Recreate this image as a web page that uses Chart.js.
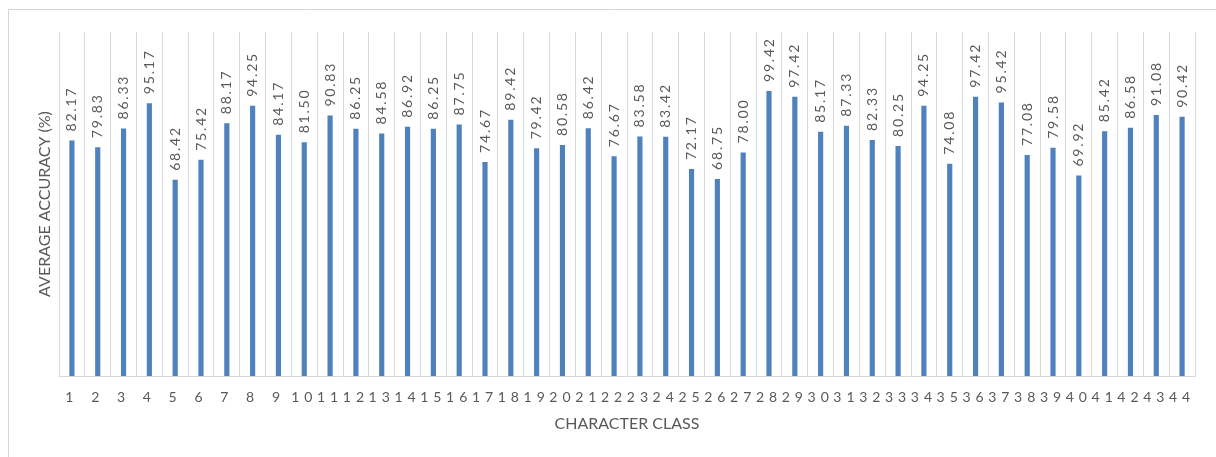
<!DOCTYPE html>
<html>
<head>
<meta charset="utf-8">
<title>Average accuracy per character class</title>
<script src="https://cdn.jsdelivr.net/npm/chart.js@4.4.1/dist/chart.umd.min.js"></script>
<style>
  html, body { margin: 0; padding: 0; background: #ffffff; }
  #wrap { position: relative; width: 1216px; height: 457px; }
  canvas { display: block; }
</style>
</head>
<body>
<div id="wrap"><canvas id="chart" width="1216" height="457"></canvas></div>
<script>
// Character classes 1..44
const classes = [
  '1','2','3','4','5','6','7','8','9','10','11',
  '12','13','14','15','16','17','18','19','20','21','22',
  '23','24','25','26','27','28','29','30','31','32','33',
  '34','35','36','37','38','39','40','41','42','43','44'
];

// Average accuracy (%) for each class
const accuracy = [
  82.17, 79.83, 86.33, 95.17, 68.42, 75.42, 88.17, 94.25, 84.17, 81.50, 90.83,
  86.25, 84.58, 86.92, 86.25, 87.75, 74.67, 89.42, 79.42, 80.58, 86.42, 76.67,
  83.58, 83.42, 72.17, 68.75, 78.00, 99.42, 97.42, 85.17, 87.33, 82.33, 80.25,
  94.25, 74.08, 97.42, 95.42, 77.08, 79.58, 69.92, 85.42, 86.58, 91.08, 90.42
];

const yMin = 0;
const yMax = 120;

const FONT = 'Lato, "Open Sans", sans-serif';
const TEXT_GREY = '#595959';
const GRID_GREY = '#d9d9d9';

// Outer frame drawn behind everything
const framePlugin = {
  id: 'frame',
  beforeDraw(chart) {
    const ctx = chart.ctx;
    ctx.save();
    ctx.strokeStyle = '#d4d4d4';
    ctx.lineWidth = 1;
    ctx.beginPath();
    ctx.moveTo(8.5, chart.height);
    ctx.lineTo(8.5, 9.5);
    ctx.lineTo(chart.width, 9.5);
    ctx.stroke();
    ctx.restore();
  }
};

// Vertical value labels above each bar; also spaces out the category labels drawn next
const valueLabelPlugin = {
  id: 'valueLabels',
  afterDatasetsDraw(chart) {
    const ctx = chart.ctx;
    const meta = chart.getDatasetMeta(0);
    const values = chart.data.datasets[0].data;
    ctx.save();
    ctx.fillStyle = TEXT_GREY;
    ctx.font = '14px ' + FONT;
    ctx.letterSpacing = '1.8px';
    ctx.textAlign = 'left';
    ctx.textBaseline = 'middle';
    meta.data.forEach((bar, i) => {
      ctx.save();
      ctx.translate(bar.x, bar.y - 9);
      ctx.rotate(-Math.PI / 2);
      ctx.fillText(values[i].toFixed(2), 0, 0);
      ctx.restore();
    });
    ctx.restore();
    ctx.letterSpacing = '5px';
  },
  afterDraw(chart) {
    chart.ctx.letterSpacing = '0px';
  }
};

new Chart(document.getElementById('chart'), {
  type: 'bar',
  data: {
    labels: classes,
    datasets: [{
      data: accuracy,
      backgroundColor: '#4f81bd',
      borderWidth: 0,
      barPercentage: 0.2,
      categoryPercentage: 1.0
    }]
  },
  options: {
    responsive: false,
    animation: false,
    devicePixelRatio: 1,
    layout: { padding: { left: 0, top: 32, right: 21, bottom: 0 } },
    plugins: {
      legend: { display: false },
      tooltip: { enabled: false }
    },
    scales: {
      x: {
        afterFit(scale) { scale.height = 81; },
        grid: {
          display: true,
          color: GRID_GREY,
          lineWidth: 1,
          drawTicks: false,
          offset: true
        },
        border: { display: true, color: GRID_GREY, width: 1 },
        ticks: {
          z: 1,
          color: TEXT_GREY,
          font: { family: FONT, size: 14 },
          padding: 13,
          autoSkip: false,
          maxRotation: 0,
          minRotation: 0
        },
        title: {
          display: true,
          text: 'CHARACTER CLASS',
          color: TEXT_GREY,
          font: { family: FONT, size: 16, lineHeight: 1 },
          padding: { top: 0, bottom: 25 }
        }
      },
      y: {
        min: yMin,
        max: yMax,
        afterFit(scale) { scale.width = 59; },
        grid: { display: false, drawTicks: false },
        border: { display: false },
        ticks: { display: false },
        title: {
          display: true,
          text: 'AVERAGE ACCURACY (%)',
          color: TEXT_GREY,
          font: { family: FONT, size: 16, lineHeight: 1 },
          padding: { top: 37, bottom: 0 }
        }
      }
    }
  },
  plugins: [framePlugin, valueLabelPlugin]
});
</script>
</body>
</html>
